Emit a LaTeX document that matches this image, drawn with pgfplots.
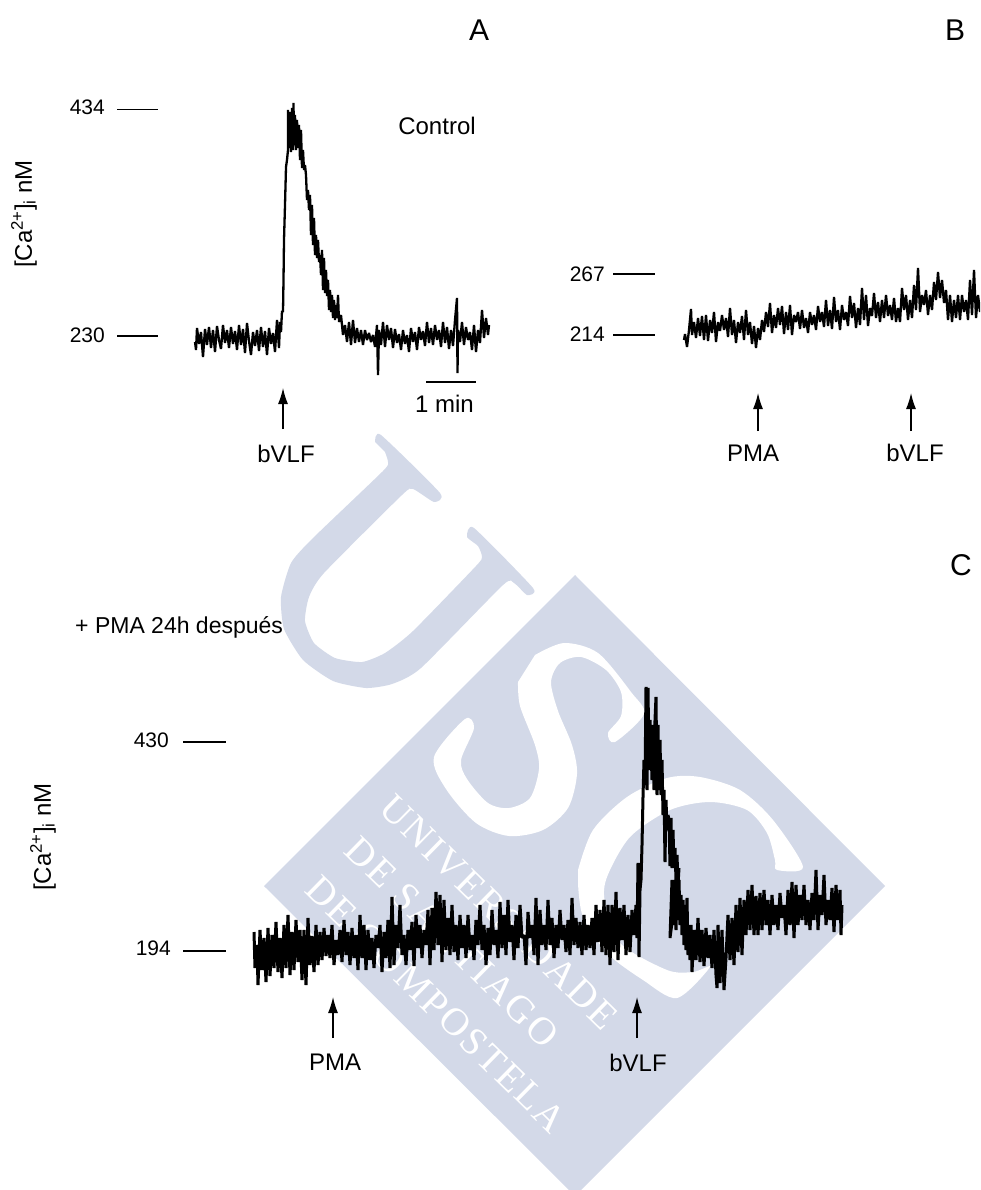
\documentclass[border=0pt]{standalone}
\usepackage{pgfplots}
\pgfplotsset{compat=1.18}
\usetikzlibrary{arrows.meta}
\usepackage{fontspec}
\setmainfont{Liberation Sans}
\newfontfamily\wm[LetterSpace=6]{Liberation Serif}
\definecolor{wmblue}{HTML}{D3D9E8}
\tikzset{lab/.style={font=\fontsize{24}{28}\selectfont, inner sep=0pt},
         num/.style={font=\fontsize{21}{25}\selectfont, inner sep=0pt, anchor=east},
         big/.style={font=\fontsize{30}{34}\selectfont, inner sep=0pt},
         wmt/.style={rotate=-44.5, text=white, inner sep=0pt, font=\wm\fontsize{39}{39}\selectfont}}
\begin{document}
\begin{tikzpicture}
\useasboundingbox (0,0) rectangle (980pt,1190pt);
\begin{axis}[
  at={(0,0)}, anchor=south west,
  scale only axis, width=980pt, height=1190pt,
  xmin=0, xmax=980, ymin=0, ymax=1190, y dir=reverse,
  hide axis,
  trace/.style={black, line width=2.3pt, line join=bevel, mark=none},
  traceC/.style={black, line width=3pt, line join=bevel, mark=none},
  tick/.style={black, line width=1.2pt, mark=none},
  arr/.style={black, line width=1.3pt, mark=none, -{Latex[length=16pt,width=10pt]}},
]
% watermark
\addplot[draw=none, fill=wmblue, mark=none] coordinates {(264,886)(575,575)(885,886)(581,1190)(569,1190)} --cycle;
\addplot[draw=none, fill=wmblue, mark=none, smooth, tension=0.35] coordinates {(375,442)(381,435)(440,493)(434,502)(413,489)(402,495)(324,573)(309,597)(305,621)(314,643)(335,658)(362,662)(385,653)(413,631)(476,566)(482,557)(478,546)(467,537)(474,528)(533,588)(527,595)(514,583)(503,585)(421,668)(392,684)(366,688)(333,681)(303,660)(284,629)(281,597)(291,563)(312,539)(383,471)(388,462)(385,452)} --cycle;
\addplot[draw=none, fill=white, mark=none, smooth, tension=0.5] coordinates {(518,682)(520,706)(535,745)(539,769)(530,798)(509,808)(488,803)(467,779)(461,760)(474,728)(465,719)(434,757)(446,789)(476,823)(509,836)(543,830)(568,808)(577,774)(572,745)(558,711)(551,682)(560,663)(581,657)(606,670)(621,692)(621,716)(608,733)(615,742)(644,714)(631,692)(598,653)(564,643)(535,655)} --cycle;
\addplot[draw=none, fill=white, mark=none, smooth, tension=0.5] coordinates {(578,870)(593,830)(627,797)(667,778)(700,777)(740,790)(773,820)(803,867)(777,870)(775,860)(767,833)(747,810)(710,802)(670,810)(630,837)(607,877)(605,903)(620,943)(667,970)(693,972)(710,967)(677,998)(643,980)(607,953)(583,917)(578,883)} --cycle;
\node[wmt] at (axis cs:499,912) {UNIVERSIDADE};
\node[wmt] at (axis cs:452,942) {DE SANTIAGO};
\node[wmt] at (axis cs:436,1004) {DE COMPOSTELA};
% trace A
\addplot[trace] coordinates {(195,342)(196,350)(197,328)(199,344)(201,332)(203,357)(205,329)(207,345)(209,327)(211,348)(213,330)(215,352)(217,326)(219,340)(221,349)(223,325)(225,343)(227,330)(229,348)(231,327)(233,344)(235,331)(237,350)(239,325)(241,345)(243,329)(245,353)(247,323)(249,341)(251,355)(253,332)(255,346)(257,330)(259,351)(261,327)(263,347)(265,331)(267,355)(269,328)(271,344)(273,333)(275,352)(277,320)(279,348)(280,322)(281,332)(282,311)(283,312)(283.5,280)(284,240)(285,205)(286,167)(287,160)(288,150)(288,110)(289,148)(290,112)(291,152)(292,108)(293,150)(293.5,103)(294,145)(295,115)(296,150)(297,120)(298,148)(299,125)(300,160)(301,130)(302,168)(303,150)(304,170)(305,165)(306,175)(307,200)(308,190)(309,210)(310,195)(311,235)(312,205)(313,245)(314,218)(315,255)(316,235)(317,258)(318,240)(319,262)(320,255)(321,275)(322,250)(323,290)(324,258)(325,293)(326,270)(327,296)(328,280)(329,310)(330,290)(331,312)(332,295)(333,318)(334,300)(335,320)(336,305)(337,318)(338,295)(339,322)(341,315)(343,335)(345,325)(347,342)(349,322)(351,345)(353,320)(355,343)(357,328)(359,342)(361,330)(363,345)(365,330)(367,340)(369,333)(371,342)(373,335)(375,347)(377,325)(378,375)(379,330)(381,345)(383,322)(385,347)(387,325)(389,340)(391,328)(393,348)(395,329)(397,343)(399,334)(401,350)(403,330)(405,344)(407,335)(409,352)(411,328)(413,342)(415,332)(417,350)(419,327)(421,340)(423,331)(425,346)(427,322)(429,343)(431,328)(433,345)(435,325)(437,340)(439,330)(441,347)(443,322)(445,343)(447,327)(449,349)(451,330)(453,346)(455,320)(457,298)(457.5,373)(458,330)(460,342)(462,322)(464,345)(466,327)(468,340)(470,332)(472,350)(474,325)(476,352)(478,330)(480,343)(482,310)(484,338)(486,318)(488,335)(489,325)};
% trace B
\addplot[trace] coordinates {(684,340)(685,334)(687,347)(689,330)(691,309)(692,335)(694,322)(696,338)(698,318)(700,336)(702,316)(704,340)(706,315)(708,341)(710,320)(712,333)(714,312)(716,342)(718,322)(720,331)(722,315)(724,330)(726,318)(728,337)(730,308)(732,335)(734,320)(736,343)(738,322)(740,333)(742,316)(744,340)(746,310)(748,335)(750,322)(752,344)(754,326)(756,348)(758,328)(760,340)(762,320)(764,332)(766,312)(768,327)(770,303)(772,333)(774,315)(776,328)(778,308)(780,325)(782,306)(784,334)(786,312)(788,330)(790,305)(792,335)(794,315)(796,322)(798,312)(800,329)(802,310)(804,328)(806,318)(808,333)(810,312)(812,325)(814,315)(816,330)(818,306)(820,322)(822,312)(824,327)(826,300)(828,326)(830,310)(832,329)(834,297)(836,322)(838,310)(840,330)(842,305)(844,320)(846,312)(848,326)(850,296)(852,318)(854,303)(856,328)(858,308)(860,325)(862,288)(864,320)(866,295)(868,326)(870,308)(872,316)(874,293)(876,318)(878,302)(880,322)(882,300)(884,318)(886,295)(888,316)(890,305)(892,320)(894,298)(896,322)(898,308)(900,322)(902,288)(904,310)(906,295)(908,320)(910,300)(912,318)(914,285)(916,310)(918,268)(920,312)(922,295)(924,305)(926,290)(928,315)(930,295)(932,310)(934,282)(936,300)(938,272)(940,298)(942,280)(944,303)(946,290)(948,320)(950,295)(952,322)(954,300)(956,318)(958,295)(960,320)(962,295)(964,312)(966,300)(968,320)(970,280)(972,315)(974,270)(976,318)(978,295)(980,312)};
% trace C
\addplot[traceC] coordinates {(254,932)(255,968)(257,945)(258,985)(260,930)(262,970)(264,938)(266,982)(268,928)(270,976)(272,935)(274,968)(276,922)(278,972)(280,938)(282,978)(284,925)(286,968)(288,915)(290,975)(292,932)(294,970)(296,920)(298,962)(300,930)(302,980)(304,930)(306,985)(308,918)(310,965)(312,936)(314,972)(316,925)(318,965)(320,932)(322,960)(324,928)(326,956)(328,935)(330,958)(332,925)(334,965)(336,940)(338,955)(340,930)(342,962)(344,920)(346,955)(348,932)(350,965)(352,928)(354,958)(356,935)(358,970)(360,915)(362,958)(364,925)(366,970)(368,930)(370,960)(372,938)(374,968)(376,935)(378,948)(380,925)(382,972)(384,932)(386,958)(388,920)(390,968)(392,897)(394,965)(396,925)(398,948)(400,905)(402,955)(404,935)(406,965)(408,930)(410,950)(412,922)(414,966)(416,915)(418,948)(420,925)(422,958)(424,930)(426,945)(428,910)(430,965)(432,908)(434,950)(436,892)(438,945)(440,895)(442,962)(444,900)(446,950)(448,918)(450,955)(452,905)(454,952)(456,925)(458,960)(460,915)(462,948)(464,925)(466,958)(468,915)(470,950)(472,935)(474,960)(476,920)(478,945)(480,905)(482,950)(484,925)(486,965)(488,928)(490,955)(492,910)(494,945)(496,930)(498,958)(500,902)(502,948)(504,915)(506,955)(508,900)(510,942)(512,925)(514,960)(516,915)(518,948)(520,905)(522,938)(524,935)(526,965)(528,912)(530,938)(532,925)(534,955)(536,898)(538,965)(540,910)(542,945)(544,925)(546,950)(548,900)(550,945)(552,918)(554,958)(556,925)(558,948)(560,910)(562,940)(564,925)(566,952)(568,920)(570,955)(572,898)(574,945)(576,918)(578,948)(580,922)(582,955)(584,915)(586,950)(588,925)(590,948)(592,918)(594,955)(596,905)(598,942)(600,910)(602,952)(604,900)(606,955)(608,905)(610,965)(612,905)(614,952)(616,892)(618,960)(620,908)(622,940)(624,905)(626,955)(628,915)(630,952)(632,910)(634,935)(636,905)(637,938)(638,863)(639,957)(640,890)(641,880)(642,845)(643,797)(644,760)(645,785)(646,687)(647,790)(648,688)(649,770)(650,720)(651,745)(652,780)(653,725)(654,790)(655,720)(656,697)(657,795)(658,725)(659,790)(660,740)(661,795)(662,760)(663,815)(664,790)(665,862)(666,800)(667,830)(668,815)(669,820)(670,866)(671,818)(672,868)(673,830)(674,868)(675,848)(676,880)(677,855)(678,885)(679,868)(670,938)(672,880)(673,925)(675,880)(676,930)(677,875)(678,920)(679,880)(680,925)(681,895)(682,935)(683,900)(684,945)(685,905)(686,950)(687,898)(688,955)(689,925)(690,960)(691,925)(692,972)(694,930)(696,960)(698,918)(700,962)(702,930)(704,966)(706,928)(708,958)(710,935)(712,968)(714,930)(716,975)(717,988)(718,925)(720,983)(722,930)(724,990)(726,958)(728,915)(730,960)(732,918)(734,965)(736,905)(738,952)(740,898)(742,955)(744,900)(746,935)(748,890)(750,930)(752,885)(754,935)(756,896)(758,935)(760,893)(762,930)(764,890)(766,925)(768,900)(770,935)(772,895)(774,925)(776,905)(778,930)(780,893)(782,918)(784,905)(786,935)(788,890)(790,925)(792,882)(794,938)(796,885)(798,925)(800,895)(802,920)(804,885)(806,925)(808,900)(810,930)(812,893)(814,920)(816,870)(818,930)(820,895)(822,915)(824,875)(826,925)(828,900)(830,920)(832,888)(834,932)(836,885)(838,920)(840,890)(841,935)(842,905)};
% tick marks
\addplot[tick] coordinates {(117,109.5)(158,109.5)};
\addplot[tick] coordinates {(117,336)(158,336)};
\addplot[tick] coordinates {(613,274)(655,274)};
\addplot[tick] coordinates {(613,335)(655,335)};
\addplot[tick] coordinates {(183,742)(226,742)};
\addplot[tick] coordinates {(183,951)(226,951)};
\addplot[tick] coordinates {(426,382)(476,382)};
% arrows
\addplot[arr] coordinates {(283,429)(283,388)};
\addplot[arr] coordinates {(758,431)(758,393)};
\addplot[arr] coordinates {(911,431)(911,393)};
\addplot[arr] coordinates {(333,1038)(333,997)};
\addplot[arr] coordinates {(637,1038)(637,997)};
% text
\node[big] at (axis cs:479,30) {A};
\node[big] at (axis cs:955,30) {B};
\node[big] at (axis cs:961,565) {C};
\node[lab] at (axis cs:437,126) {Control};
\node[num] at (axis cs:105,107) {434};
\node[num] at (axis cs:105,335) {230};
\node[num] at (axis cs:605,274) {267};
\node[num] at (axis cs:605,334) {214};
\node[num] at (axis cs:169,740) {430};
\node[num] at (axis cs:171,948) {194};
\node[lab] at (axis cs:444.5,404) {1 min};
\node[lab] at (axis cs:286,454) {bVLF};
\node[lab] at (axis cs:753,453) {PMA};
\node[lab] at (axis cs:915,453) {bVLF};
\node[lab] at (axis cs:335,1062) {PMA};
\node[lab] at (axis cs:638,1063) {bVLF};
\node[lab,anchor=west,font=\fontsize{23}{27}\selectfont] at (axis cs:75,627) {+ PMA 24h después};
\node[lab,rotate=90] at (axis cs:24,214) {[Ca\textsuperscript{2+}]\textsubscript{i} nM};
\node[lab,rotate=90] at (axis cs:43,837) {[Ca\textsuperscript{2+}]\textsubscript{i} nM};
\end{axis}
\end{tikzpicture}
\end{document}
